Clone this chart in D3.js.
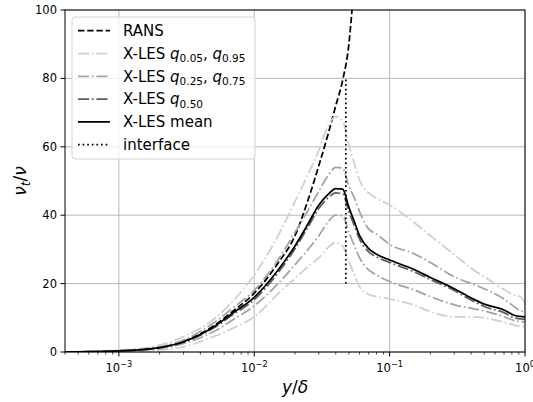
<!DOCTYPE html>
<html>
<head>
<meta charset="utf-8">
<script src="https://cdn.jsdelivr.net/npm/d3@7"></script>
<style>
  body { margin: 0; background: #fff; }
  svg { display: block; font-family: "DejaVu Sans", sans-serif; }
  .it { font-style: italic; }
</style>
</head>
<body>
<div id="chart"></div>
<script>
// y/delta sample positions shared by the X-LES profiles
const yDelta = [0.0004, 0.001, 0.002, 0.003, 0.005, 0.007, 0.01, 0.015, 0.02, 0.025, 0.03, 0.035, 0.04, 0.045,
  0.05, 0.055, 0.06, 0.07, 0.08, 0.1, 0.15, 0.2, 0.3, 0.4, 0.5, 0.7, 0.85, 0.92, 1.0];

const lesMean = [0, 0.3, 1.3, 3.0, 7.3, 11.5, 16, 24, 31, 37.5, 43, 46, 47.8, 47.6,
  42.3, 38, 34, 30.2, 28.6, 26.9, 24.2, 21.8, 18.5, 15.8, 14, 12.3, 10.6, 10.4, 10.3];
const lesQ50 = [0, 0.3, 1.2, 2.8, 7.0, 11.0, 15.3, 23.2, 30.2, 36.6, 42, 45, 46.5, 46.3,
  41, 36.8, 33, 29.3, 27.8, 26.2, 23.5, 21.2, 18, 15.2, 13.3, 11.5, 9.9, 9.7, 9.6];
const lesQ25 = [0, 0.2, 1.0, 2.5, 5.9, 9.5, 13.5, 20, 25.5, 30, 34, 38, 40, 39.8,
  35, 31, 27.5, 24, 22.5, 20.6, 18.2, 16.2, 13.8, 12.8, 12, 10.3, 9.1, 8.9, 8.9];
const lesQ75 = [0, 0.4, 1.5, 3.5, 8.5, 13, 18, 27, 35, 41.5, 47, 51.5, 54, 53.8,
  48.5, 45, 41, 36, 34.5, 31.5, 28.8, 26.2, 22, 20, 18.5, 15.5, 13, 12, 11.8];
const lesQ05 = [0, 0.1, 0.6, 1.5, 4.5, 7, 10.3, 17, 21.5, 25, 27.5, 30.5, 32, 31,
  26.5, 22.5, 19, 16.8, 16.2, 15.5, 13.8, 11.8, 10.3, 10.3, 10, 8.7, 7.8, 7.5, 7.4];
const lesQ95 = [0, 0.5, 2, 4.5, 9.5, 15, 22.5, 34, 44, 52, 59, 66, 68.8, 67.5,
  60.5, 55, 50.3, 46.5, 45, 43, 38, 34, 28.5, 24.5, 22, 18.3, 16.5, 16.3, 14];

const ransY = [0.0004, 0.001, 0.002, 0.003, 0.005, 0.007, 0.01, 0.015, 0.02, 0.025, 0.03, 0.035, 0.04, 0.045, 0.05, 0.053];
const ransNu = [0, 0.3, 1.3, 3.1, 7.6, 12, 17.2, 26, 34, 44.5, 54.5, 63.5, 72, 79.5, 90, 101];

const interfaceY = 0.0475;
const interfaceNu = [20, 80];

const xDomain = [0.0004, 1];
const yDomain = [0, 100];
const xTickExps = [-3, -2, -1, 0];
const yTicks = [0, 20, 40, 60, 80, 100];

const width = 533, height = 402;
const margin = { top: 10, right: 8, bottom: 50, left: 65 };
const iw = width - margin.left - margin.right;
const ih = height - margin.top - margin.bottom;

const svg = d3.select('#chart').append('svg')
  .attr('width', width)
  .attr('height', height);

const g = svg.append('g')
  .attr('transform', 'translate(' + margin.left + ',' + margin.top + ')');

const x = d3.scaleLog().domain(xDomain).range([0, iw]);
const y = d3.scaleLinear().domain(yDomain).range([ih, 0]);

svg.append('defs').append('clipPath').attr('id', 'plotclip')
  .append('rect').attr('width', iw).attr('height', ih);

// grid
const grid = g.append('g').attr('class', 'grid');
grid.selectAll('line.gx')
  .data(xTickExps.map(e => Math.pow(10, e)))
  .enter().append('line')
  .attr('x1', d => x(d)).attr('x2', d => x(d))
  .attr('y1', 0).attr('y2', ih)
  .attr('stroke', '#b0b0b0').attr('stroke-width', 0.9);
grid.selectAll('line.gy')
  .data(yTicks)
  .enter().append('line')
  .attr('x1', 0).attr('x2', iw)
  .attr('y1', d => y(d)).attr('y2', d => y(d))
  .attr('stroke', '#b0b0b0').attr('stroke-width', 0.9);

// series
const lw = 1.75;
const dashDot = '11.1,2.8,1.7,2.8';
const series = [
  { vals: lesQ05, color: '#cfcfcf', dash: dashDot },
  { vals: lesQ95, color: '#cfcfcf', dash: dashDot },
  { vals: lesQ25, color: '#a3a3a3', dash: dashDot },
  { vals: lesQ75, color: '#a3a3a3', dash: dashDot },
  { vals: lesQ50, color: '#5e5e5e', dash: dashDot },
  { vals: lesMean, color: '#000', dash: null }
];

const line = d3.line()
  .x(d => x(d[0]))
  .y(d => y(d[1]))
  .curve(d3.curveMonotoneX);

const plot = g.append('g').attr('clip-path', 'url(#plotclip)');

plot.append('path')
  .datum(ransY.map((v, i) => [v, ransNu[i]]))
  .attr('d', line)
  .attr('fill', 'none')
  .attr('stroke', '#000')
  .attr('stroke-width', lw)
  .attr('stroke-dasharray', '6.4,2.8');

series.forEach(s => {
  plot.append('path')
    .datum(yDelta.map((v, i) => [v, s.vals[i]]))
    .attr('d', line)
    .attr('fill', 'none')
    .attr('stroke', s.color)
    .attr('stroke-width', lw)
    .attr('stroke-dasharray', s.dash);
});

plot.append('line')
  .attr('x1', x(interfaceY)).attr('x2', x(interfaceY))
  .attr('y1', y(interfaceNu[0])).attr('y2', y(interfaceNu[1]))
  .attr('stroke', '#000')
  .attr('stroke-width', lw)
  .attr('stroke-dasharray', '1.7,2.9');

// axes frame
g.append('rect')
  .attr('width', iw).attr('height', ih)
  .attr('fill', 'none').attr('stroke', '#000').attr('stroke-width', 1);

// y ticks
const yAxis = g.append('g');
yTicks.forEach(t => {
  yAxis.append('line')
    .attr('x1', -4.5).attr('x2', 0)
    .attr('y1', y(t)).attr('y2', y(t))
    .attr('stroke', '#000').attr('stroke-width', 1);
  yAxis.append('text')
    .attr('x', -8).attr('y', y(t))
    .attr('text-anchor', 'end')
    .attr('dominant-baseline', 'central')
    .attr('font-size', 11.5)
    .text(t);
});

// x ticks (major + log minor)
const xAxis = g.append('g').attr('transform', 'translate(0,' + ih + ')');
const minors = [];
for (let e = -4; e < 0; e++) {
  for (let m = 2; m <= 9; m++) {
    const v = m * Math.pow(10, e);
    if (v >= xDomain[0] && v <= xDomain[1]) minors.push(v);
  }
}
xAxis.selectAll('line.minor')
  .data(minors)
  .enter().append('line')
  .attr('x1', d => x(d)).attr('x2', d => x(d))
  .attr('y1', 0).attr('y2', 2.6)
  .attr('stroke', '#000').attr('stroke-width', 0.7);
xTickExps.forEach(e => {
  const px = x(Math.pow(10, e));
  xAxis.append('line')
    .attr('x1', px).attr('x2', px)
    .attr('y1', 0).attr('y2', 4.5)
    .attr('stroke', '#000').attr('stroke-width', 1);
  const t = xAxis.append('text')
    .attr('x', px).attr('y', 20)
    .attr('text-anchor', 'middle')
    .attr('font-size', 11.5);
  t.append('tspan').text('10');
  t.append('tspan').attr('dy', -5).attr('font-size', 8.2).text(e === 0 ? '0' : '\u2212' + Math.abs(e));
});

// axis labels
const xl = svg.append('text')
  .attr('x', margin.left + iw / 2)
  .attr('y', 393)
  .attr('text-anchor', 'middle')
  .attr('font-size', 17);
xl.append('tspan').attr('class', 'it').text('y');
xl.append('tspan').text('/');
xl.append('tspan').attr('class', 'it').text('\u03b4');

const yl = svg.append('text')
  .attr('transform', 'translate(26,' + (margin.top + ih / 2) + ') rotate(-90)')
  .attr('text-anchor', 'middle')
  .attr('font-size', 17);
yl.append('tspan').attr('class', 'it').text('\u03bd');
yl.append('tspan').attr('class', 'it').attr('dy', 4).attr('font-size', 12).text('t');
yl.append('tspan').attr('dy', -4).text('/');
yl.append('tspan').attr('class', 'it').text('\u03bd');

// legend
const legendItems = [
  { label: ['RANS'], color: '#000', dash: '6.4,2.8' },
  { label: ['X-LES ', 'q', '0.05', ', ', 'q', '0.95'], color: '#cfcfcf', dash: dashDot },
  { label: ['X-LES ', 'q', '0.25', ', ', 'q', '0.75'], color: '#a3a3a3', dash: dashDot },
  { label: ['X-LES ', 'q', '0.50'], color: '#5e5e5e', dash: dashDot },
  { label: ['X-LES mean'], color: '#000', dash: null },
  { label: ['interface'], color: '#000', dash: '1.7,2.9' }
];

const legend = svg.append('g').attr('transform', 'translate(72,17)');
legend.append('rect')
  .attr('width', 183).attr('height', 142)
  .attr('rx', 3)
  .attr('fill', '#fff').attr('fill-opacity', 0.8)
  .attr('stroke', '#d6d6d6').attr('stroke-width', 1);

legendItems.forEach((item, i) => {
  const cy = 13.7 + i * 22.8;
  legend.append('line')
    .attr('x1', 6).attr('x2', 38)
    .attr('y1', cy).attr('y2', cy)
    .attr('stroke', item.color)
    .attr('stroke-width', lw)
    .attr('stroke-dasharray', item.dash);
  const t = legend.append('text')
    .attr('x', 51).attr('y', cy + 5.3)
    .attr('font-size', 15);
  // pieces: plain text, italic q, then subscript index
  let sub = false;
  item.label.forEach(p => {
    if (p === 'q') {
      t.append('tspan').attr('class', 'it').text('q');
    } else if (/^0\.\d\d$/.test(p)) {
      t.append('tspan').attr('dy', 3.5).attr('font-size', 10.5).text(p);
      sub = true;
    } else {
      const s = t.append('tspan').text(p);
      if (sub) { s.attr('dy', -3.5); sub = false; }
    }
  });
});
</script>
</body>
</html>
